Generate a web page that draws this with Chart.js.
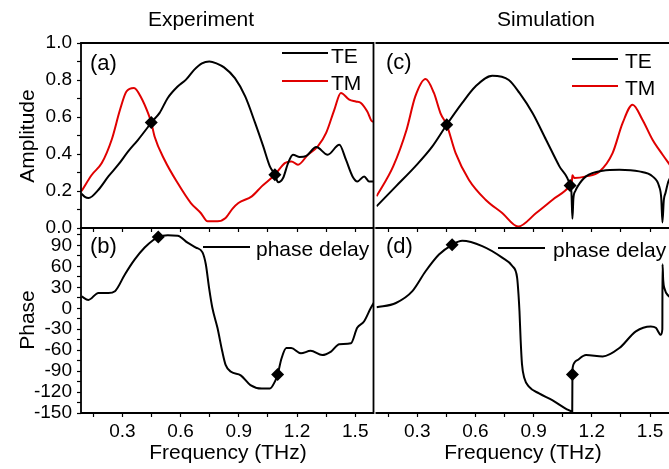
<!DOCTYPE html>
<html>
<head>
<meta charset="utf-8">
<script src="https://cdn.jsdelivr.net/npm/chart.js@4.4.1/dist/chart.umd.min.js"></script>
<style>
  html, body { margin:0; padding:0; width:669px; height:469px; overflow:hidden; background:#fff; }
  body { position:relative; font-family:"Liberation Sans", Arial, sans-serif; color:#000; }
  canvas { position:absolute; }
  .t { position:absolute; white-space:nowrap; line-height:1; transform:translate(-50%,-50%); font-size:21px; }
  .l { position:absolute; white-space:nowrap; line-height:1; transform:translateY(-50%); font-size:21px; }
  .ln { position:absolute; height:2px; background:#000; transform:translateY(-50%); }
  .rot { transform:translate(-50%,-50%) rotate(-90deg); }
</style>
</head>
<body>
<canvas id="ca" width="380" height="255" style="left:0px;top:0px;width:380px;height:255px"></canvas>
<canvas id="cb" width="380" height="269" style="left:0px;top:200px;width:380px;height:269px"></canvas>
<canvas id="cc" width="310" height="255" style="left:370px;top:0px;width:310px;height:255px"></canvas>
<canvas id="cd" width="310" height="269" style="left:370px;top:200px;width:310px;height:269px"></canvas>

<div class="t" style="left:201px;top:18px">Experiment</div>
<div class="t" style="left:546px;top:18px">Simulation</div>
<div class="t rot" style="left:26px;top:136px">Amplitude</div>
<div class="t rot" style="left:26px;top:320px">Phase</div>
<div class="t" style="left:228px;top:451px">Frequency (THz)</div>
<div class="t" style="left:523px;top:451px">Frequency (THz)</div>

<div class="l" style="left:90px;top:63px;font-size:22px">(a)</div>
<div class="l" style="left:90px;top:246px;font-size:22px">(b)</div>
<div class="l" style="left:386px;top:62px;font-size:22px">(c)</div>
<div class="l" style="left:386px;top:246px;font-size:22px">(d)</div>

<div class="ln" style="left:282px;width:46px;top:53px"></div>
<div class="l" style="left:331px;top:54.5px">TE</div>
<div class="ln" style="left:282px;width:46px;top:80.5px;background:#e00000"></div>
<div class="l" style="left:331px;top:82px">TM</div>

<div class="ln" style="left:572px;width:46px;top:59px"></div>
<div class="l" style="left:625px;top:60px">TE</div>
<div class="ln" style="left:572px;width:46px;top:86px;background:#e00000"></div>
<div class="l" style="left:625px;top:87px">TM</div>

<div class="ln" style="left:203px;width:47px;top:246.5px"></div>
<div class="l" style="left:256px;top:247.5px">phase delay</div>
<div class="ln" style="left:498px;width:47px;top:248px"></div>
<div class="l" style="left:553px;top:249px">phase delay</div>

<script>
// ---------- DATA ----------
// Tick values
const xTicks = [0.15, 0.3, 0.45, 0.6, 0.75, 0.9, 1.05, 1.2, 1.35, 1.5];
const ampTicks = [0, 0.1, 0.2, 0.3, 0.4, 0.5, 0.6, 0.7, 0.8, 0.9, 1.0];
const phaseTicks = [-150, -135, -120, -105, -90, -75, -60, -45, -30, -15, 0, 15, 30, 45, 60, 75, 90, 105];

// (a) Experiment amplitude
const expTE_f = [0.09,0.105,0.126,0.177,0.228,0.279,0.33,0.381,0.432,0.449,0.492,0.534,0.585,0.628,0.671,0.71,0.748,0.785,0.824,0.88,0.933,0.984,1.026,1.06,1.086,1.103,1.128,1.154,1.179,1.214,1.248,1.299,1.358,1.418,1.452,1.486,1.511,1.546,1.571,1.6];
const expTE_a = [0.185,0.17,0.162,0.207,0.279,0.342,0.414,0.477,0.546,0.57,0.622,0.703,0.765,0.802,0.856,0.89,0.9,0.89,0.868,0.81,0.711,0.568,0.441,0.333,0.288,0.247,0.27,0.351,0.396,0.384,0.39,0.438,0.396,0.45,0.369,0.279,0.252,0.279,0.252,0.252];
const expTM_f = [0.09,0.143,0.194,0.245,0.288,0.321,0.36,0.398,0.432,0.449,0.466,0.517,0.585,0.653,0.704,0.739,0.79,0.832,0.868,0.898,0.967,1.018,1.086,1.137,1.171,1.205,1.256,1.307,1.35,1.392,1.426,1.469,1.503,1.529,1.562,1.588,1.6];
const expTM_a = [0.2,0.288,0.351,0.477,0.639,0.738,0.757,0.703,0.622,0.57,0.495,0.369,0.243,0.135,0.081,0.036,0.036,0.054,0.105,0.135,0.171,0.225,0.288,0.351,0.36,0.342,0.396,0.441,0.514,0.639,0.73,0.694,0.684,0.676,0.63,0.576,0.576];
const expMark_f = [0.449, 1.086];
const expMark_a = [0.57, 0.288];

// (b) Experiment phase
const expPh_f = [0.09,0.125,0.177,0.228,0.262,0.313,0.364,0.415,0.458,0.485,0.534,0.585,0.636,0.679,0.713,0.73,0.747,0.764,0.79,0.815,0.832,0.86,0.91,0.96,1.018,1.06,1.086,1.1,1.12,1.145,1.17,1.22,1.27,1.33,1.375,1.418,1.478,1.51,1.545,1.58,1.6];
const expPh = [17,12,22,22,24.5,48.5,70,87,97.5,102,104.5,104,94,87,80,63,29,0.4,-28,-62,-81,-91,-96,-110,-115,-115,-105,-95,-72,-57,-57,-64.5,-61,-67,-62,-51.5,-50,-28,-19,0.4,10];
const expPhMark_f = [0.485, 1.1];
const expPhMark = [102, -95];

// (c) Simulation amplitude
const simTE_f = [0.09,0.19,0.29,0.378,0.452,0.532,0.6,0.687,0.772,0.827,0.895,0.964,1.033,1.088,1.095,1.1,1.105,1.115,1.127,1.17,1.256,1.342,1.444,1.513,1.547,1.558,1.564,1.571,1.58,1.594,1.603];
const simTE_a = [0.117,0.225,0.333,0.441,0.558,0.676,0.765,0.823,0.8,0.73,0.62,0.477,0.333,0.23,0.19,0.05,0.16,0.2,0.225,0.279,0.31,0.315,0.306,0.279,0.225,0.16,0.03,0.15,0.19,0.25,0.27];
const simTM_f = [0.09,0.176,0.245,0.29,0.343,0.386,0.42,0.452,0.498,0.566,0.652,0.738,0.82,0.913,0.998,1.088,1.097,1.1,1.11,1.17,1.24,1.307,1.359,1.41,1.461,1.513,1.565,1.603];
const simTM_a = [0.171,0.333,0.531,0.711,0.805,0.73,0.62,0.558,0.405,0.261,0.153,0.081,0.008,0.081,0.153,0.23,0.25,0.285,0.27,0.279,0.306,0.405,0.568,0.666,0.585,0.477,0.396,0.34];
const simMark_f = [0.452, 1.088];
const simMark_a = [0.558, 0.23];

// (d) Simulation phase
const simPh_f = [0.09,0.19,0.275,0.343,0.412,0.48,0.532,0.635,0.738,0.79,0.815,0.822,0.827,0.833,0.84,0.852,0.877,0.928,0.998,1.067,1.093,1.099,1.1,1.102,1.11,1.127,1.17,1.256,1.342,1.427,1.504,1.53,1.556,1.5635,1.5645,1.568,1.575,1.594,1.603];
const simPh = [1.4,7.6,24.5,53,77,91,96.6,89,72.5,60.5,43.7,20,-4,-45,-80,-100,-112.5,-122,-132,-144,-147.7,-149,-95,-84,-78,-74,-67,-69,-57,-33,-26,-28,-38,-30,63,40,28,18,16];
const simPhMark_f = [0.48, 1.1];
const simPhMark = [91, -95];

// ---------- CHARTS ----------
Chart.defaults.font.family = '"Liberation Sans", Arial, sans-serif';
Chart.defaults.font.size = 19;
Chart.defaults.color = '#000';

const RED = '#e00000';
const pts = (fs, vs) => fs.map((f, i) => ({x: f, y: vs[i]}));

function makeFrame(skipLeft) {
  return {
    id: 'frame',
    afterDatasetsDraw(chart) {
      const {ctx, chartArea: a} = chart;
      ctx.save();
      ctx.strokeStyle = '#000';
      ctx.lineWidth = 1.8;
      ctx.beginPath();
      if (skipLeft) {
        ctx.moveTo(a.left - 1, a.top);
        ctx.lineTo(a.right, a.top);
        ctx.lineTo(a.right, a.bottom);
        ctx.lineTo(a.left - 1, a.bottom);
      } else {
        ctx.rect(a.left, a.top, a.right - a.left, a.bottom - a.top);
      }
      ctx.stroke();
      ctx.restore();
    }
  };
}

function lineDs(fs, vs, color) {
  return {data: pts(fs, vs), showLine: true, borderColor: color, borderWidth: 2,
          pointRadius: 0, cubicInterpolationMode: 'monotone', fill: false};
}
function markDs(fs, vs) {
  return {data: pts(fs, vs), showLine: false, pointStyle: 'rectRot', pointRadius: 6.5,
          backgroundColor: '#000', borderColor: '#000', borderWidth: 0};
}
const gridOpts = {drawOnChartArea: false, drawTicks: true, tickLength: 4, tickWidth: 1.2, tickColor: '#000', color: '#000'};

function xScale(min, max, showLabels, height) {
  return {
    type: 'linear', min, max,
    afterBuildTicks: s => { s.ticks = xTicks.map(v => ({value: v})); },
    afterFit: s => { s.height = height; },
    ticks: {
      autoSkip: false, maxRotation: 0, padding: 3,
      callback: v => {
        if (!showLabels) return '';
        const k = v / 0.3;
        return Math.abs(k - Math.round(k)) < 1e-6 ? v.toFixed(1) : '';
      }
    },
    grid: gridOpts, border: {display: false}
  };
}
function ampScale(show) {
  if (!show) return {type: 'linear', min: 0, max: 1, display: false};
  return {
    type: 'linear', min: 0, max: 1,
    afterBuildTicks: s => { s.ticks = ampTicks.map(v => ({value: v})); },
    afterFit: s => { s.width = 81; },
    ticks: {autoSkip: false, padding: 5,
      callback: v => (Math.round(v * 10) % 2 === 0 ? v.toFixed(1) : '')},
    grid: gridOpts, border: {display: false}
  };
}
function phaseScale(show) {
  if (!show) return {type: 'linear', min: -150, max: 115, display: false};
  return {
    type: 'linear', min: -150, max: 115,
    afterBuildTicks: s => { s.ticks = phaseTicks.map(v => ({value: v})); },
    afterFit: s => { s.width = 81; },
    ticks: {autoSkip: false, padding: 5,
      callback: v => (Math.round(v) % 30 === 0 ? String(Math.round(v)) : '')},
    grid: gridOpts, border: {display: false}
  };
}
function make(id, datasets, x, y, padding, skipLeft) {
  new Chart(document.getElementById(id), {
    type: 'scatter',
    data: {datasets},
    options: {
      responsive: false, animation: false,
      layout: {padding},
      plugins: {legend: {display: false}, tooltip: {enabled: false}},
      scales: {x, y}
    },
    plugins: [makeFrame(skipLeft)]
  });
}

make('ca', [markDs(expMark_f, expMark_a), lineDs(expTE_f, expTE_a, '#000'), lineDs(expTM_f, expTM_a, RED)],
     xScale(0.087, 1.594, false, 27), ampScale(true), {top: 43, right: 4, left: 0, bottom: 0}, false);
make('cb', [markDs(expPhMark_f, expPhMark), lineDs(expPh_f, expPh, '#000')],
     xScale(0.087, 1.594, true, 56), phaseScale(true), {top: 28, right: 4, left: 0, bottom: 0}, false);
make('cc', [markDs(simMark_f, simMark_a), lineDs(simTE_f, simTE_a, '#000'), lineDs(simTM_f, simTM_a, RED)],
     xScale(0.09, 1.603, false, 27), ampScale(false), {top: 43, right: 10, left: 6, bottom: 0}, true);
make('cd', [markDs(simPhMark_f, simPhMark), lineDs(simPh_f, simPh, '#000')],
     xScale(0.09, 1.603, true, 56), phaseScale(false), {top: 28, right: 10, left: 6, bottom: 0}, true);
</script>
</body>
</html>
